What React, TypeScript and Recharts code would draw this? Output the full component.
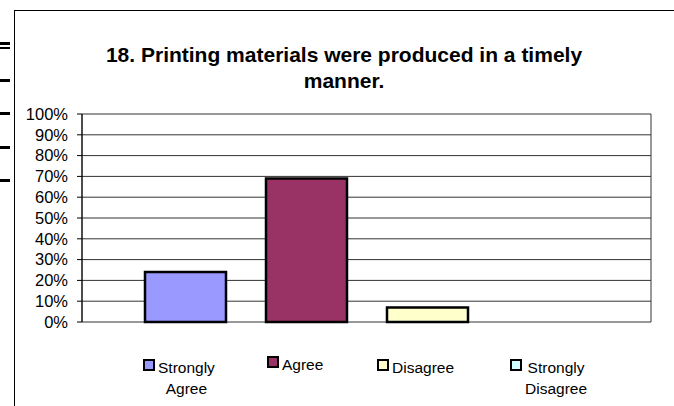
import { BarChart, Bar, XAxis, YAxis, CartesianGrid } from 'recharts';

const categories = [''];
const seriesNames = ['Strongly Agree', 'Agree', 'Disagree', 'Strongly Disagree'];
const seriesKeys = ['stronglyAgree', 'agree', 'disagree', 'stronglyDisagree'];
const seriesValues = [0.24, 0.69, 0.07, 0];
const seriesColors = ['#9999FF', '#993366', '#FFFFCC', '#CCFFFF'];
const yTicks = [0, 0.1, 0.2, 0.3, 0.4, 0.5, 0.6, 0.7, 0.8, 0.9, 1];

const titleLines = ['18. Printing materials were produced in a timely', 'manner.'];

// one category, four series side by side (like the original Excel chart)
const chartData = categories.map(name => {
  const row: Record<string, any> = { name };
  seriesKeys.forEach((k, i) => { row[k] = seriesValues[i]; });
  return row;
});

const FONT = 'Arial, "Liberation Sans", sans-serif';

// legend item positions, hand-placed to match the screenshot
const legendItems = [
  { x: 143, top: 357, lines: ['Strongly', 'Agree'] },
  { x: 267, top: 354, lines: ['Agree'] },
  { x: 377, top: 357, lines: ['Disagree'] },
  { x: 510, top: 357, lines: ['Strongly', 'Disagree'] },
];

export default function App() {
  return (
    <div style={{ position: 'absolute', left: 0, top: 0, width: 674, height: 406, background: '#fff', fontFamily: FONT, overflow: 'hidden' }}>
      {/* frame edges from the screenshot */}
      <div style={{ position: 'absolute', left: 14, top: 10, width: 1, height: 396, background: '#000' }} />
      <div style={{ position: 'absolute', left: 14, top: 10, width: 660, height: 1, background: '#000' }} />
      {[42, 47, 79, 112, 146, 179].map((y, i) => (
        <div key={i} style={{ position: 'absolute', left: 0, top: y, width: 10, height: i === 1 ? 2 : 3, background: '#000' }} />
      ))}

      <div style={{ position: 'absolute', left: 94, top: 42, width: 500, textAlign: 'center', fontWeight: 'bold', fontSize: 21, lineHeight: '26px', color: '#000' }}>
        {titleLines.map((l, i) => <div key={i}>{l}</div>)}
      </div>

      <BarChart
        width={674}
        height={406}
        data={chartData}
        margin={{ top: 114, right: 23, bottom: 84, left: 0 }}
        barSize={81}
        barGap={40}
        style={{ position: 'absolute', left: 0, top: 0 }}
      >
        <CartesianGrid stroke="#333" vertical={true} verticalPoints={[82, 651]} />
        <XAxis dataKey="name" hide />
        <YAxis
          width={82}
          domain={[0, 1]}
          ticks={yTicks}
          interval={0}
          tickFormatter={(v: number) => `${Math.round(v * 100)}%`}
          axisLine={{ stroke: '#000' }}
          tickLine={{ stroke: '#000' }}
          tickSize={5}
          tickMargin={9}
          tick={{ fill: '#000', fontSize: 16.5, fontFamily: FONT }}
        />
        {seriesKeys.map((k, i) => (
          <Bar key={k} dataKey={k} name={seriesNames[i]} fill={seriesColors[i]} stroke="#000" strokeWidth={2.5} isAnimationActive={false} />
        ))}
      </BarChart>

      {legendItems.map((it, i) => (
        <div key={i} style={{ position: 'absolute', left: it.x, top: it.top, fontSize: 15.5, color: '#000' }}>
          <div style={{ position: 'absolute', left: 0, top: 2, width: 8, height: 8, background: seriesColors[i], border: '2px solid #000' }} />
          <div style={{ position: 'absolute', left: 15, top: 0, lineHeight: '21px', textAlign: 'center', whiteSpace: 'nowrap' }}>
            {it.lines.map((l, j) => <div key={j}>{l}</div>)}
          </div>
        </div>
      ))}
    </div>
  );
}
